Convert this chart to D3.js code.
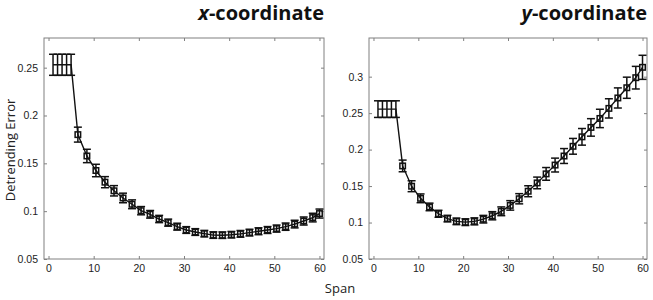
<!DOCTYPE html>
<html>
<head>
<meta charset="utf-8">
<style>
  body { margin: 0; background: #fff; }
  svg { display: block; font-family: "Open Sans", sans-serif; }
  .tick text { font-size: 10.5px; fill: #222; }
  .frame { fill: none; stroke: #808080; stroke-width: 1; }
</style>
</head>
<body>
<svg width="653" height="300"></svg>
<script src="https://d3js.org/d3.v7.min.js"></script>
<script>

// span values (x)
var spans = [1, 2, 3, 4, 5, 6.5, 8.5, 10.5, 12.5, 14.5, 16.5, 18.5, 20.5, 22.5, 24.5,
  26.5, 28.5, 30.5, 32.5, 34.5, 36.5, 38.5, 40.5, 42.5, 44.5, 46.5, 48.5, 50.5,
  52.5, 54.5, 56.5, 58.5, 60];

// x-coordinate detrending error and its error bars
var xErr = [0.253, 0.253, 0.253, 0.253, 0.253, 0.180, 0.1577, 0.1425, 0.1303, 0.1213,
  0.1138, 0.1072, 0.1005, 0.0967, 0.0918, 0.0880, 0.0838, 0.0803, 0.0782, 0.0765,
  0.0750, 0.0749, 0.0754, 0.0763, 0.0776, 0.0790, 0.0803, 0.0818, 0.0838, 0.0865,
  0.0897, 0.0933, 0.0975];
var xSd = [0.011, 0.011, 0.011, 0.011, 0.011, 0.0078, 0.007, 0.0065, 0.0058, 0.0054,
  0.005, 0.0046, 0.0043, 0.004, 0.0038, 0.0037, 0.0036, 0.0035, 0.0035, 0.0034,
  0.0034, 0.0034, 0.0034, 0.0035, 0.0035, 0.0036, 0.0036, 0.0037, 0.0038, 0.004,
  0.0042, 0.0045, 0.0047];

// y-coordinate detrending error and its error bars
var yErr = [0.2555, 0.2555, 0.2555, 0.2555, 0.2555, 0.1776, 0.1498, 0.1332, 0.1214, 0.1120,
  0.1054, 0.1016, 0.1005, 0.1016, 0.1046, 0.1093, 0.1154, 0.1235, 0.1326, 0.1429,
  0.1543, 0.1667, 0.1788, 0.1912, 0.2045, 0.2175, 0.2304, 0.2427, 0.2565, 0.2708,
  0.2848, 0.2986, 0.3128];
var ySd = [0.0114, 0.0114, 0.0114, 0.0114, 0.0114, 0.008, 0.0075, 0.006, 0.0052, 0.0048,
  0.0045, 0.0045, 0.0046, 0.0048, 0.0052, 0.0056, 0.006, 0.0065, 0.007, 0.0075,
  0.008, 0.0087, 0.0095, 0.0102, 0.0108, 0.0114, 0.012, 0.0126, 0.0132, 0.0138,
  0.0145, 0.0155, 0.0165];

var xTicks = [0, 10, 20, 30, 40, 50, 60];
var leftYTicks = [0.05, 0.1, 0.15, 0.2, 0.25];
var rightYTicks = [0.05, 0.1, 0.15, 0.2, 0.25, 0.3];

var svg = d3.select("svg");

function panel(opts) {
  var x = d3.scaleLinear().domain([-1, 61]).range([opts.left, opts.right]);
  var y = d3.scaleLinear().domain(opts.yDomain).range([259, 38]);
  var g = svg.append("g");
  var fmt = function(d) { return String(+d.toFixed(2)); };

  g.append("g").attr("transform", "translate(0,259)")
    .call(d3.axisBottom(x).tickValues(xTicks).tickSize(-3).tickPadding(6))
    .call(a => a.select(".domain").remove());
  g.append("g").attr("transform", "translate(0,38)")
    .call(d3.axisTop(x).tickValues(xTicks).tickSize(-3).tickFormat(""))
    .call(a => a.select(".domain").remove());
  g.append("g").attr("transform", "translate(" + opts.left + ",0)")
    .call(d3.axisLeft(y).tickValues(opts.yTicks).tickSize(-3).tickPadding(6).tickFormat(fmt))
    .call(a => a.select(".domain").remove());
  g.append("g").attr("transform", "translate(" + opts.right + ",0)")
    .call(d3.axisRight(y).tickValues(opts.yTicks).tickSize(-3).tickFormat(""))
    .call(a => a.select(".domain").remove());
  g.selectAll(".tick line").attr("stroke", "#808080");

  g.append("rect").attr("class", "frame")
    .attr("x", opts.left).attr("y", 38)
    .attr("width", opts.right - opts.left).attr("height", 221);

  var pts = spans.map((s, i) => ({ s: s, v: opts.values[i], e: opts.errors[i] }));

  g.append("path").datum(pts)
    .attr("fill", "none").attr("stroke", "#111").attr("stroke-width", 1.4)
    .attr("d", d3.line().x(d => x(d.s)).y(d => y(d.v)));

  var cap = 4, m = 5.5;
  var bars = g.append("g").attr("stroke", "#111").attr("stroke-width", 1.5).attr("fill", "none");
  bars.selectAll("line.v").data(pts).join("line").attr("class", "v")
    .attr("x1", d => x(d.s)).attr("x2", d => x(d.s))
    .attr("y1", d => y(d.v - d.e)).attr("y2", d => y(d.v + d.e));
  bars.selectAll("line.t").data(pts).join("line").attr("class", "t")
    .attr("x1", d => x(d.s) - cap).attr("x2", d => x(d.s) + cap)
    .attr("y1", d => y(d.v + d.e)).attr("y2", d => y(d.v + d.e));
  bars.selectAll("line.b").data(pts).join("line").attr("class", "b")
    .attr("x1", d => x(d.s) - cap).attr("x2", d => x(d.s) + cap)
    .attr("y1", d => y(d.v - d.e)).attr("y2", d => y(d.v - d.e));
  bars.selectAll("rect").data(pts.filter(d => d.s > 5)).join("rect")
    .attr("x", d => x(d.s) - m / 2).attr("y", d => y(d.v) - m / 2)
    .attr("width", m).attr("height", m);

  svg.append("text")
    .attr("x", opts.right).attr("y", 20)
    .attr("text-anchor", "end")
    .attr("font-size", 20).attr("font-weight", "bold").attr("fill", "#111")
    .call(t => {
      t.append("tspan").attr("font-style", "italic").text(opts.letter);
      t.append("tspan").text("-coordinate");
    });
}

panel({ left: 44, right: 324, yDomain: [0.05, 0.281], yTicks: leftYTicks,
  values: xErr, errors: xSd, letter: "x" });
panel({ left: 369, right: 647, yDomain: [0.05, 0.353], yTicks: rightYTicks,
  values: yErr, errors: ySd, letter: "y" });

svg.append("text")
  .attr("transform", "translate(15,150) rotate(-90)")
  .attr("text-anchor", "middle").attr("font-size", 13).attr("fill", "#222")
  .text("Detrending Error");

svg.append("text")
  .attr("x", 340).attr("y", 293)
  .attr("text-anchor", "middle").attr("font-size", 13).attr("fill", "#222")
  .text("Span");

</script>
</body>
</html>
